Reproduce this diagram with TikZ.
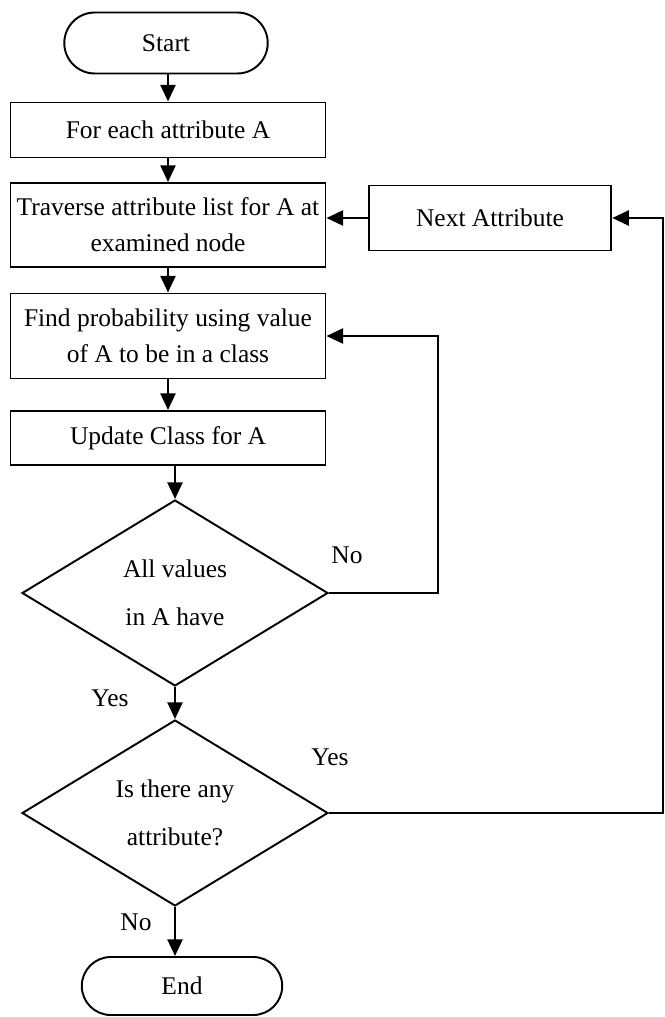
\documentclass[tikz,border=0pt]{standalone}
\usepackage{fontspec}
\setmainfont{Liberation Serif}
\usepackage{tikz}
\usetikzlibrary{arrows.meta}
\usetikzlibrary{shapes.geometric, shapes.misc}

\begin{document}
\begin{tikzpicture}[x=0.02cm, y=-0.02cm,
                   every node/.style={font=\fontsize{14.5}{20.4}\selectfont, align=center, inner sep=1pt},
                   >={Triangle[length=9.5pt, width=8.5pt]},
                   block/.style={rectangle, draw=black, line width=1.1pt, minimum width=6.3cm},
                   term/.style={rounded rectangle, draw=black, line width=1.1pt, minimum height=1.22cm},
                   decision/.style={diamond, aspect=1.645, draw=black, line width=1.1pt, minimum width=6.12cm, minimum height=3.72cm},
                   flow/.style={->, line width=1.5pt}]
\useasboundingbox (0,0) rectangle (664,1017);

\node[term, minimum width=4.14cm] (start) at (166,43) {Start};
\node[block, minimum height=1.1cm] (each) at (168,130) {For each attribute A};
\node[block, minimum height=1.68cm] (trav) at (168,225) {Traverse attribute list for A at\\examined node};
\node[block, minimum width=4.85cm, minimum height=1.3cm] (next) at (490,218) {Next Attribute};
\node[block, minimum height=1.7cm] (prob) at (168,336) {Find probability using value\\of A to be in a class};
\node[block, minimum height=1.08cm] (upd) at (168,438) {Update Class for A};
\node[decision] (allv) at (175,593) {All values\\[6.8pt]in A have};
\node[decision] (any) at (175,813) {Is there any\\[6.8pt]attribute?};
\node[term, minimum width=4.08cm, minimum height=1.16cm] (stop) at (182,986) {End};

\node (noA) at (347,555) {No};
\node (yesA) at (110,698) {Yes};
\node (yesB) at (330,757) {Yes};
\node (noB) at (136,922) {No};

\draw[flow] (start.south -| each.north) -- (each.north);
\draw[flow] (each) -- (trav);
\draw[flow] (trav) -- (prob);
\draw[flow] (prob) -- (upd);
\draw[flow] (upd.south -| allv.north) -- (allv.north);
\draw[flow] (allv.east) -- ++(109,0) |- (prob.east);
\draw[flow] (allv) -- (any);
\draw[flow] (any.east) -- ++(334,0) |- (next.east);
\draw[flow] (next.west) -- (next.west -| trav.east);
\draw[flow] (any.south) -- (any.south |- stop.north);
\end{tikzpicture}
\end{document}
